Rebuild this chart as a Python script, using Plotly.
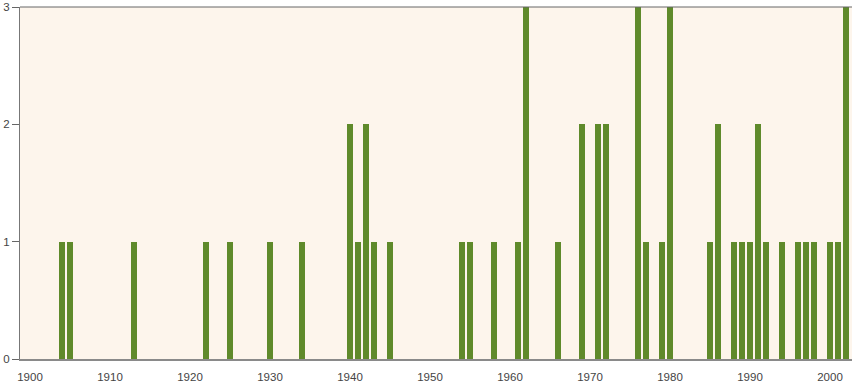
import plotly.graph_objects as go

years = [1904, 1905, 1913, 1922, 1925, 1930, 1934, 1940, 1941, 1942, 1943, 1945,
         1954, 1955, 1958, 1961, 1962, 1966, 1969, 1971, 1972, 1976, 1977, 1979, 1980,
         1985, 1986, 1988, 1989, 1990, 1991, 1992, 1994, 1996, 1997, 1998, 2000, 2001, 2002]
counts = [1, 1, 1, 1, 1, 1, 1, 2, 1, 2, 1, 1,
          1, 1, 1, 1, 3, 1, 2, 2, 2, 3, 1, 1, 3,
          1, 2, 1, 1, 1, 2, 1, 1, 1, 1, 1, 1, 1, 3]
x_ticks = [1900, 1910, 1920, 1930, 1940, 1950, 1960, 1970, 1980, 1990, 2000]
y_ticks = [0, 1, 2, 3]

fig = go.Figure(go.Bar(x=years, y=counts, width=0.74, marker=dict(color="#5f8a2b", line=dict(width=0))))

fig.update_layout(
    width=852, height=387,
    margin=dict(l=20, r=0, t=7, b=28),
    paper_bgcolor="white",
    plot_bgcolor="#fdf5ec",
    font=dict(family="Liberation Sans, Arial, sans-serif", size=11.5, color="#444"),
    showlegend=False,
    bargap=0,
)
fig.update_xaxes(range=[1898.75, 2002.75], tickvals=x_ticks, ticktext=[str(v) for v in x_ticks],
                 ticks="", showgrid=False, zeroline=False, showline=True, linecolor="#8a8a8a",
                 linewidth=2, automargin=False, ticklabelstandoff=6)
fig.update_yaxes(range=[0, 3], tickvals=y_ticks, ticks="outside", ticklen=7, tickcolor="#666",
                 showgrid=False, zeroline=False, showline=True, linecolor="#777", linewidth=1,
                 automargin=False)
fig.add_shape(type="line", xref="paper", yref="paper", x0=0, x1=1, y0=1, y1=1,
              line=dict(color="#666", width=1))

fig.write_html("out.html")
